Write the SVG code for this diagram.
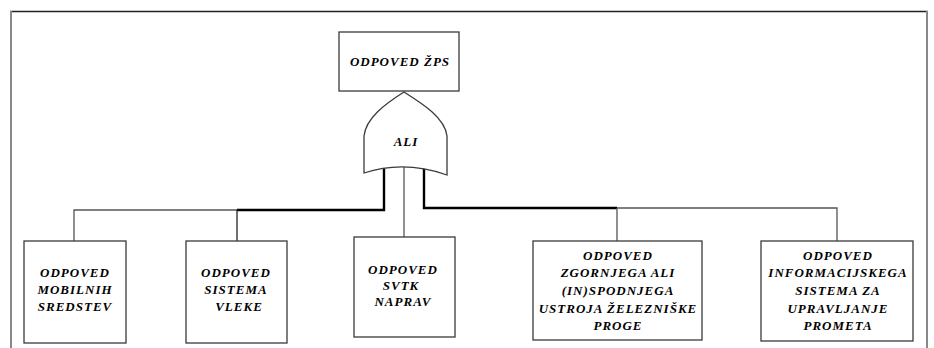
<svg xmlns="http://www.w3.org/2000/svg" width="934" height="348" viewBox="0 0 934 348">
<style>
.box{fill:#fff;stroke:#3a3a3a;stroke-width:1.3}
.t{font-family:'Liberation Serif',serif;font-weight:bold;font-style:italic;font-size:13px;letter-spacing:1px;text-anchor:middle;fill:#000}
.thin{fill:none;stroke:#555;stroke-width:1.3}
.thick{fill:none;stroke:#000;stroke-width:2.4}
</style>
<rect width="934" height="348" fill="#fff"/>
<g id="frame">
<line x1="10" y1="11.5" x2="928" y2="11.5" stroke="#222" stroke-width="1.5"/>
<line x1="11" y1="11" x2="11" y2="348" stroke="#888" stroke-width="2"/>
<line x1="927" y1="11" x2="927" y2="348" stroke="#888" stroke-width="2"/>
</g>
<g id="connectors">
<line class="thin" x1="404" y1="166" x2="404" y2="237"/>
<polyline class="thick" points="384,167 384,210 237,210"/>
<polyline class="thin" points="237,210 74,210 74,241"/>
<line x1="237" y1="210" x2="237" y2="241" stroke="#222" stroke-width="1.3"/>
<polyline class="thick" points="424,168 424,208 617,208"/>
<polyline class="thin" points="617,208 837,208 837,241"/>
<line class="thin" x1="617" y1="208" x2="617" y2="241"/>
</g>
<g id="top">
<rect class="box" x="339" y="32" width="120" height="59"/>
<text class="t" x="400" y="66">ODPOVED ŽPS</text>
</g>
<g id="gate">
<path class="box" d="M364,173 L364,136 C366,118 385,104 404,92 C423,104 445,118 447,136 L447,175 Q404,160 364,173 Z"/>
<text class="t" x="406" y="146">ALI</text>
</g>
<g id="n1">
<rect class="box" x="24" y="241" width="102" height="102"/>
<text class="t" x="75" y="277">ODPOVED</text>
<text class="t" x="75" y="294">MOBILNIH</text>
<text class="t" x="75" y="311">SREDSTEV</text>
</g>
<g id="n2">
<rect class="box" x="186" y="241" width="101" height="102"/>
<text class="t" x="236" y="277">ODPOVED</text>
<text class="t" x="236" y="294">SISTEMA</text>
<text class="t" x="239" y="311">VLEKE</text>
</g>
<g id="n3">
<rect class="box" x="354" y="237" width="101" height="100"/>
<text class="t" x="403" y="274">ODPOVED</text>
<text class="t" x="401" y="290">SVTK</text>
<text class="t" x="403" y="306">NAPRAV</text>
</g>
<g id="n4">
<rect class="box" x="533" y="241" width="169" height="99"/>
<text class="t" x="618" y="260">ODPOVED</text>
<text class="t" x="618" y="277">ZGORNJEGA ALI</text>
<text class="t" x="618" y="295">(IN)SPODNJEGA</text>
<text class="t" x="618" y="313">USTROJA ŽELEZNIŠKE</text>
<text class="t" x="618" y="330">PROGE</text>
</g>
<g id="n5">
<rect class="box" x="761" y="241" width="152" height="100"/>
<text class="t" x="838" y="260">ODPOVED</text>
<text class="t" x="838" y="277">INFORMACIJSKEGA</text>
<text class="t" x="838" y="295">SISTEMA ZA</text>
<text class="t" x="838" y="313">UPRAVLJANJE</text>
<text class="t" x="838" y="330">PROMETA</text>
</g>
</svg>
